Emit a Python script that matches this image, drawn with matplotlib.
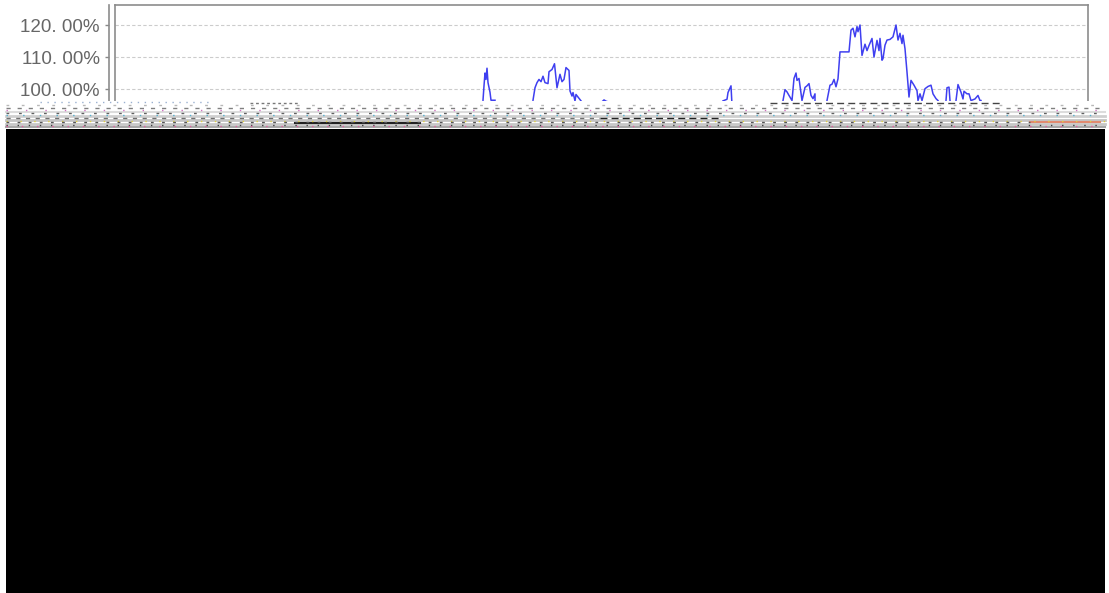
import matplotlib
matplotlib.use('Agg')
import matplotlib.pyplot as plt
from matplotlib.patches import Rectangle

W, H = 1109, 593

# tick labels, same odd spacing as the picture
ticks = [100, 110, 120]
tick_labels = ['100. 00%', '110. 00%', '120. 00%']

# bursts of the blue series: sample position, percent
s1_x = [483, 484, 485, 486, 487, 488, 490, 491, 495]
s1_y = [96.5, 101, 105, 103, 106.5, 102, 99, 96.5, 96.5]
s2_x = [533, 535, 537, 539, 541, 543, 545, 548, 549, 552, 554.5, 557, 560, 562, 564, 566, 569, 570, 572, 573, 575, 576, 581]
s2_y = [96.5, 100.4, 102, 103, 102.3, 104, 102, 101.7, 105.4, 106.1, 107.9, 100.4, 104.6, 102.3, 103, 106.7, 105.8, 99.4, 97.8, 98.9, 96.3, 98.3, 96.3]
s3_x = [602, 604, 606, 608]
s3_y = [96, 96.6, 96.2, 96]
s4_x = [723, 727, 728, 731, 732]
s4_y = [96.3, 96.8, 98.9, 101, 95]
s5_x = [783, 785, 787, 789, 792, 794, 796, 797, 799, 802, 805, 807, 809, 811, 813, 815, 815]
s5_y = [96.4, 99.8, 99.1, 98, 96.4, 103.3, 105, 102.7, 103.3, 96.4, 100.5, 101, 101.7, 98, 97, 98.5, 96.4]
s6_x = [827, 830, 832, 834, 836, 838, 840, 849, 851, 853, 855, 857, 858, 860, 862, 865, 867, 869, 872, 874, 877, 879, 880, 882, 883, 885, 887, 890, 893, 896, 898, 900, 902, 903, 905, 907, 909, 911, 914, 917, 918, 920, 922, 925, 928, 931, 933, 936, 938]
s6_y = [96.4, 101.2, 101.5, 103, 100.7, 103.2, 111.6, 111.6, 118.4, 119, 116.3, 119.5, 117.9, 120, 110.5, 114, 112, 113.6, 115.8, 110, 115.2, 112, 115.8, 109, 109.5, 113.7, 115.3, 115.5, 116.3, 120, 115.3, 117.4, 114.2, 116.8, 112.6, 105.3, 97.5, 102.7, 101.2, 99.5, 96.4, 98.5, 96.4, 100.1, 100.8, 101.2, 98.5, 97, 96.4]
s7_x = [946, 947, 949, 950]
s7_y = [96.4, 100.4, 100.6, 96.4]
s8_x = [956, 958, 961, 963, 964, 967, 969, 971, 975, 978, 980, 981]
s8_y = [96.4, 101.4, 99, 96.9, 99.3, 98.5, 98.5, 96.4, 96.9, 98, 96.4, 96.4]
bursts = [(s1_x, s1_y), (s2_x, s2_y), (s3_x, s3_y), (s4_x, s4_y),
          (s5_x, s5_y), (s6_x, s6_y), (s7_x, s7_y), (s8_x, s8_y)]

# solid streaks in the broken strip: row, start, end, colour, width
streaks = [
    (112, 6, 1105, '#dcdcdc', 1.5),
    (116, 6, 1105, '#cfcfcf', 2),
    (120, 6, 1105, '#c4c4c4', 2),
    (124, 6, 1105, '#c8c8c8', 2),
    (127, 6, 1105, '#a8a8a8', 1.5),
    (123, 295, 420, '#222222', 1.5),
    (122, 1030, 1100, '#e08a70', 1.5),
]
# broken rows: row, start, end, colour, on, off
speckle = [
    (102, 40, 210, '#9ab0d0', 1, 4),
    (103, 250, 300, '#777777', 2, 2),
    (103, 770, 1000, '#444444', 5, 3),
    (105, 6, 1100, '#b8b8b8', 2, 9),
    (108, 6, 1105, '#808080', 3, 5),
    (110, 6, 1105, '#d070c0', 1, 13),
    (113, 6, 1105, '#606060', 2, 7),
    (115, 6, 1105, '#50b0d0', 1, 11),
    (118, 600, 720, '#222222', 5, 3),
    (118, 6, 600, '#707070', 3, 4),
    (121, 6, 1105, '#e0d040', 1, 9),
    (122, 6, 1030, '#555555', 2, 6),
    (125, 6, 1105, '#404040', 1, 7),
    (126, 6, 1105, '#e060a0', 1, 10),
]

plt.rcParams['font.family'] = ['Liberation Sans', 'DejaVu Sans']
fig = plt.figure(figsize=(W / 100, H / 100), dpi=100)

ax = fig.add_axes([115 / W, 1 - 130 / H, (1088 - 115) / W, 125 / H])
ax.set_xlim(115, 1088)
ax.set_ylim(87.2, 126.25)
for xs, ys in bursts:
    ax.plot(xs, ys, color='#3f3ff0', lw=1.1)

ax.set_yticks(ticks)
ax.set_yticklabels(tick_labels)
ax.tick_params(axis='y', length=3, color='#888888', width=1, pad=3.6,
               labelcolor='#666666', labelsize=13.5)
ax.set_xticks([])
ax.grid(axis='y', ls=(0, (3, 2)), color='#cccccc', lw=0.8)
ax.set_axisbelow(True)
for sp in ax.spines.values():
    sp.set_color('#8c8c8c')
    sp.set_linewidth(1.2)

# second vertical rule left of the frame
ax.spines['left'].set_position(('outward', 4.3))
fig.add_artist(plt.Line2D([115 / W, 115 / W], [1 - 5 / H, 1 - 130 / H], color='#8c8c8c', lw=1.2))

# the lower part of the picture is black, with a broken strip above it
fig.add_artist(Rectangle((6 / W, 0), (1105 - 6) / W, 1 - 129 / H, color='black', lw=0, zorder=5))
fig.add_artist(Rectangle((6 / W, 1 - 129 / H), (1105 - 6) / W, 28 / H, color='white', lw=0, zorder=4))
for row, x0, x1, col, lw in streaks:
    fig.add_artist(plt.Line2D([x0 / W, x1 / W], [1 - row / H] * 2, color=col, lw=lw, zorder=4.5))
for row, x0, x1, col, on, off in speckle:
    fig.add_artist(plt.Line2D([x0 / W, x1 / W], [1 - row / H] * 2, color=col, lw=1,
                              ls=(0, (on, off)), zorder=4.6))

fig.savefig('out.png', dpi=100)
